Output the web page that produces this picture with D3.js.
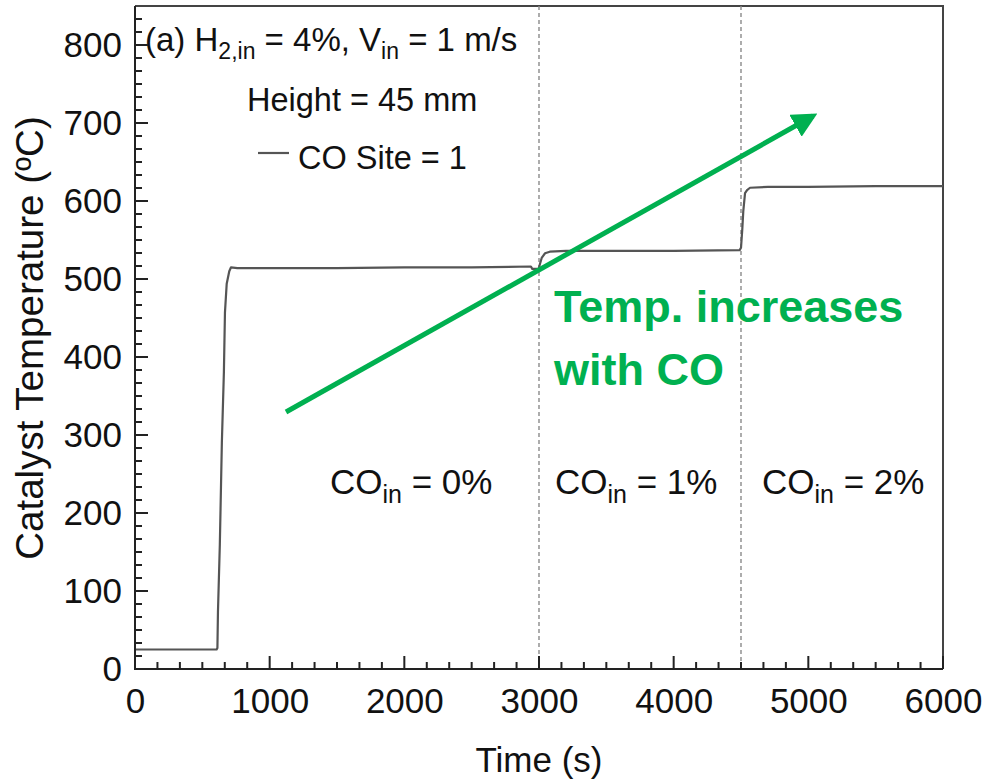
<!DOCTYPE html>
<html>
<head>
<meta charset="utf-8">
<script src="https://cdn.jsdelivr.net/npm/d3@7"></script>
<style>
  html, body { margin: 0; padding: 0; background: #fff; }
  svg { display: block; }
  text { font-family: "Liberation Sans", Arial, Helvetica, sans-serif; fill: #111; }
</style>
</head>
<body>
<svg id="chart" width="991" height="783"></svg>
<script>
// Catalyst temperature trace (time in s, temperature in °C)
const timeSec = [0, 200, 400, 606, 612, 616, 630, 645, 660, 668, 681, 700, 713, 760,
  1000, 1500, 2000, 2500, 2940, 2950, 2998, 3005, 3020, 3045, 3080, 3200,
  3600, 4000, 4490, 4500, 4510, 4517, 4530, 4545, 4567, 4700, 5000, 5500, 6000];
const tempC = [25, 25, 25, 25, 27, 73, 160, 290, 380, 457, 494, 510, 515, 514,
  514, 514, 515, 515, 516, 513, 513, 518, 527, 533, 535, 536,
  536, 536, 537, 540, 565, 587, 610, 614, 617, 618, 618, 619, 619];

// CO feed switch times and the concentration labels of each stage
const coSwitchTimes = [3000, 4500];
const stageLabels = ["0%", "1%", "2%"];
const stageLabelX = [330, 555, 762];

// axis ticks
const xTicks = [0, 1000, 2000, 3000, 4000, 5000, 6000];
const yTicks = [0, 100, 200, 300, 400, 500, 600, 700, 800];

const svg = d3.select("#chart");
const pLeft = 135, pRight = 943, pTop = 6, pBottom = 669;

const x = d3.scaleLinear().domain([0, 6000]).range([pLeft, pRight]);
const y = d3.scaleLinear().domain([0, 850]).range([pBottom, pTop]);

const FS = 35;
const axisColor = "#222";

// plot frame (top & right)
svg.append("path")
  .attr("d", `M${pLeft},${pTop}H${pRight}V${pBottom}`)
  .attr("fill", "none").attr("stroke", "#444").attr("stroke-width", 2);

// dashed separators at CO switches
svg.selectAll("line.sep").data(coSwitchTimes).enter().append("line")
  .attr("class", "sep")
  .attr("x1", d => x(d)).attr("x2", d => x(d))
  .attr("y1", pTop).attr("y2", pBottom)
  .attr("stroke", "#8a8a8a").attr("stroke-width", 1.4)
  .attr("stroke-dasharray", "4,3");

// tick labels from d3 axes
const gx = svg.append("g").attr("transform", `translate(0,${pBottom})`)
  .call(d3.axisBottom(x).tickValues(xTicks).tickSize(0).tickPadding(19).tickFormat(d3.format("d")));
gx.select(".domain").remove();
gx.selectAll("text").attr("font-size", FS).attr("fill", "#111")
  .attr("font-family", "'Liberation Sans', Arial, sans-serif");

const gy = svg.append("g").attr("transform", `translate(${pLeft},0)`)
  .call(d3.axisLeft(y).tickValues(yTicks).tickSize(0).tickPadding(13).tickFormat(d3.format("d")));
gy.select(".domain").remove();
gy.selectAll("text").attr("font-size", FS).attr("fill", "#111")
  .attr("font-family", "'Liberation Sans', Arial, sans-serif");

// temperature trace
svg.append("path")
  .datum(timeSec.map((t, i) => [t, tempC[i]]))
  .attr("fill", "none").attr("stroke", "#555").attr("stroke-width", 2.2)
  .attr("stroke-linejoin", "round")
  .attr("d", d3.line().x(d => x(d[0])).y(d => y(d[1])));

// axis titles
svg.append("text").attr("x", (pLeft + pRight) / 2).attr("y", 772)
  .attr("text-anchor", "middle").attr("font-size", FS).text("Time (s)");
svg.append("text")
  .attr("transform", `translate(43,338) rotate(-90)`)
  .attr("text-anchor", "middle").attr("font-size", 38.5)
  .text("Catalyst Temperature (ºC)");

// condition annotation
const ann = svg.append("text").attr("x", 145).attr("y", 51).attr("font-size", 33);
ann.append("tspan").text("(a)  H");
ann.append("tspan").attr("font-size", 23).attr("dy", 8).text("2,in");
ann.append("tspan").attr("dy", -8).text(" = 4%, V");
ann.append("tspan").attr("font-size", 23).attr("dy", 8).text("in");
ann.append("tspan").attr("dy", -8).text(" = 1 m/s");

svg.append("text").attr("x", 247).attr("y", 111).attr("font-size", 32.5).text("Height = 45 mm");

// legend
svg.append("line").attr("x1", 258).attr("x2", 289).attr("y1", 153).attr("y2", 153)
  .attr("stroke", "#555").attr("stroke-width", 2.2);
svg.append("text").attr("x", 298).attr("y", 169).attr("font-size", 32.5).text("CO Site = 1");

// stage labels
stageLabels.forEach((lab, i) => {
  const t = svg.append("text").attr("x", stageLabelX[i]).attr("y", 494).attr("font-size", 35);
  t.append("tspan").text("CO");
  t.append("tspan").attr("font-size", 25).attr("dy", 9).text("in");
  t.append("tspan").attr("dy", -9).text(" = " + lab);
});

// green trend arrow and note
const green = "#00b050";
svg.append("defs").append("marker")
  .attr("id", "head").attr("viewBox", "0 0 10 10")
  .attr("refX", 8).attr("refY", 5)
  .attr("markerWidth", 5).attr("markerHeight", 5)
  .attr("orient", "auto")
  .append("path").attr("d", "M0,0L10,5L0,10Z").attr("fill", green);
svg.append("line").attr("x1", 286).attr("y1", 412).attr("x2", 813).attr("y2", 116)
  .attr("stroke", green).attr("stroke-width", 5)
  .attr("marker-end", "url(#head)");

svg.append("text").attr("x", 554).attr("y", 322)
  .attr("font-family", "Lato, 'Open Sans', sans-serif").attr("font-weight", "bold")
  .attr("font-size", 45).style("fill", green).text("Temp. increases");
svg.append("text").attr("x", 554).attr("y", 385)
  .attr("font-family", "Lato, 'Open Sans', sans-serif").attr("font-weight", "bold")
  .attr("font-size", 45).style("fill", green).text("with CO");

// inward tick marks: majors plus 5 minors per interval
const xMinor = d3.range(1, 36).filter(i => i % 6 !== 0).map(i => i * 1000 / 6);
const yMinor = d3.range(1, 51).filter(i => i % 6 !== 0).map(i => i * 100 / 6);
const tickPath = d3.path();
xTicks.forEach(v => { tickPath.moveTo(x(v), pBottom); tickPath.lineTo(x(v), pBottom - 13); });
xMinor.forEach(v => { tickPath.moveTo(x(v), pBottom); tickPath.lineTo(x(v), pBottom - 7); });
yTicks.forEach(v => { tickPath.moveTo(pLeft, y(v)); tickPath.lineTo(pLeft + 13, y(v)); });
yMinor.forEach(v => { tickPath.moveTo(pLeft, y(v)); tickPath.lineTo(pLeft + 7, y(v)); });
svg.append("path")
  .attr("d", tickPath.toString())
  .attr("fill", "none")
  .attr("stroke", axisColor)
  .attr("stroke-width", 2);

// axis lines (left & bottom)
svg.append("path")
  .attr("d", `M${pLeft},${pTop}V${pBottom}H${pRight}`)
  .attr("fill", "none").attr("stroke", axisColor).attr("stroke-width", 2);
</script>
</body>
</html>
